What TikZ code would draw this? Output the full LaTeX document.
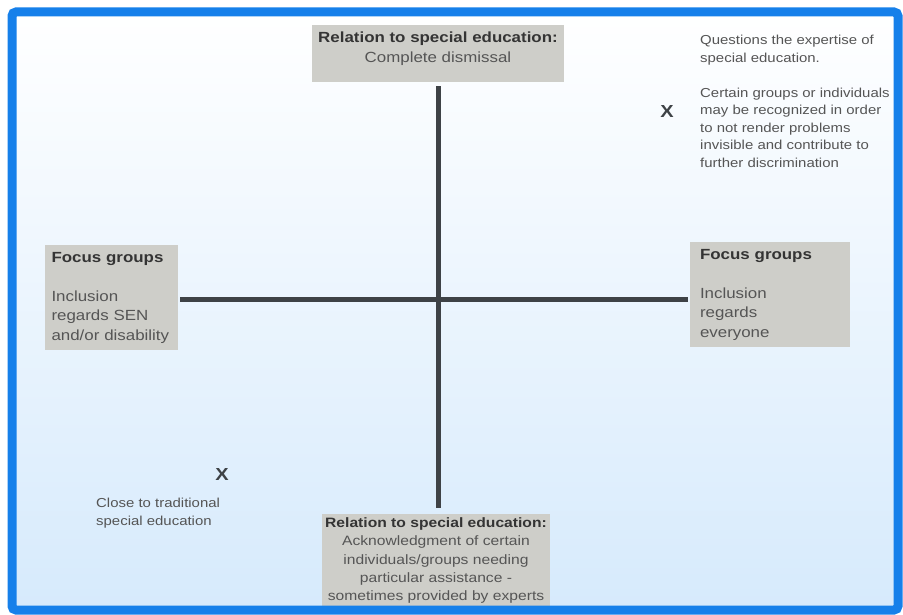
\documentclass[tikz,border=0pt]{standalone}
\usepackage{fontspec}
\setmainfont[FakeStretch=1.15]{Liberation Sans}
\usepackage{tikz}

\definecolor{frameblue}{RGB}{22,128,234}
\definecolor{skyblue}{RGB}{214,234,252}
\definecolor{boxgray}{RGB}{206,206,201}
\definecolor{axisgray}{RGB}{62,66,70}
\definecolor{textgray}{RGB}{85,85,85}
\definecolor{headgray}{RGB}{52,52,52}
\newcommand{\headline}[1]{\textcolor{headgray}{\bfseries #1}}

\begin{document}
\begin{tikzpicture}[x=1pt, y=-1pt,
                    gray box/.style={fill=boxgray, text=textgray, inner sep=0pt,
                                     font=\fontsize{14.7}{19.5}\selectfont},
                    free text/.style={text=textgray, inner sep=0pt, align=left,
                                      font=\fontsize{13}{17.5}\selectfont},
                    mark node/.style={text=axisgray, inner sep=0pt,
                                      font=\fontsize{17.4}{17.4}\selectfont\bfseries},
                    axis/.style={axisgray, line width=5pt}]

  \useasboundingbox (0,0) rectangle (903,615);
  \shade[top color=white, bottom color=skyblue] (12,12) rectangle (898,610);

  \node[gray box, minimum width=252pt, minimum height=57pt,
        font=\fontsize{14.7}{20.5}\selectfont] (top) at (438,53.5)
    {\parbox[c][44pt][t]{244pt}{\centering\headline{Relation to special education:}\\Complete dismissal}};
  \node[gray box, minimum width=133pt, minimum height=105pt, text width=120pt, align=left]
    (left) at (111.5,297.5)
    {\headline{Focus groups}\\[19.5pt]Inclusion\\regards SEN\\and/or disability};
  \node[gray box, minimum width=160pt, minimum height=105pt, text width=140pt, align=left]
    (right) at (770,294.5)
    {\headline{Focus groups}\\[19.5pt]Inclusion\\regards\\everyone};
  \node[gray box, minimum width=228pt, minimum height=93pt, align=center,
        font=\fontsize{13.6}{18.3}\selectfont] (bottom) at (436,560.5)
    {\headline{Relation to special education:}\\Acknowledgment of certain\\individuals/groups needing\\particular assistance -\\sometimes provided by experts};

  \coordinate (cross) at (438,299);
  \draw[axis, shorten <=4pt, shorten >=6pt] (top) -- (top |- bottom.north);
  \draw[axis, shorten <=2pt, shorten >=2pt] (left.east |- cross) -- (right.west |- cross);

  \node[free text, anchor=north west] (expertise) at (700,35)
    {Questions the expertise of\\special education.\\[17.5pt]Certain groups or individuals\\may be recognized in order\\to not render problems\\invisible and contribute to\\further discrimination};
  \node[mark node] (markhigh) at (667,112) {X};
  \node[mark node] (marklow) at (222,475) {X};
  \node[free text, anchor=north west] (traditional) at (96,498)
    {Close to traditional\\special education};

  \draw[frameblue, line width=9pt, rounded corners=4pt] (12,12) rectangle (898,610);
\end{tikzpicture}
\end{document}
